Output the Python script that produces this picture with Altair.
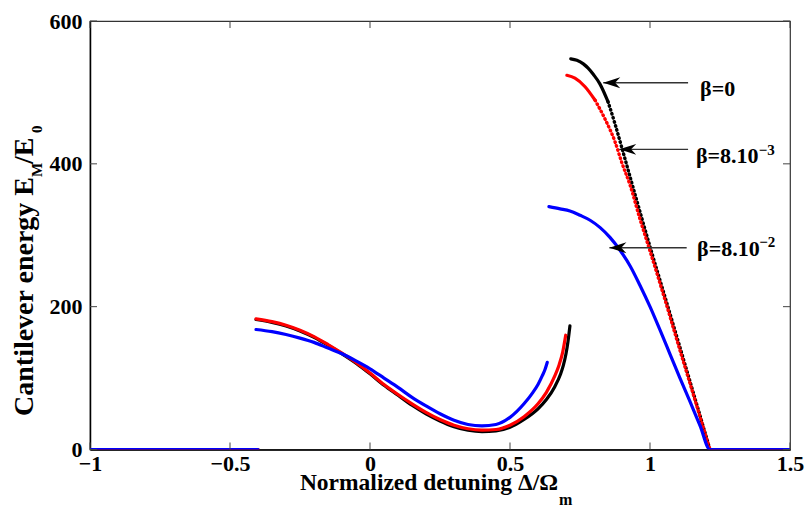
import altair as alt
import pandas as pd

# ---------------- data ----------------
zero_left_x = [-1.0, -0.40]
zero_left_y = [0, 0]

black_low_x = [-0.407, -0.35, -0.30, -0.25, -0.20, -0.15, -0.10, -0.05, 0.00, 0.05,
               0.10, 0.15, 0.20, 0.25, 0.30, 0.35, 0.40, 0.45, 0.50, 0.55,
               0.60, 0.63, 0.66, 0.68, 0.69, 0.70, 0.707, 0.714]
black_low_y = [182, 178, 173, 166, 157, 146, 134, 121, 106, 90,
               76, 62, 50, 40, 32, 27, 25, 26, 31, 42,
               57, 70, 88, 105, 117, 134, 151, 173]
red_low_x = [-0.407, -0.35, -0.30, -0.25, -0.20, -0.15, -0.10, -0.05, 0.00, 0.05,
             0.10, 0.15, 0.20, 0.25, 0.30, 0.35, 0.40, 0.45, 0.50, 0.55,
             0.60, 0.63, 0.66, 0.675, 0.688, 0.699]
red_low_y = [183, 179, 174, 167, 158, 147, 135, 122, 107, 91,
             77, 64, 52, 42, 34, 29, 27, 28, 34, 46,
             64, 80, 103, 118, 136, 160]
blue_low_x = [-0.407, -0.35, -0.30, -0.25, -0.20, -0.15, -0.10, -0.05, 0.00, 0.05,
              0.10, 0.15, 0.20, 0.25, 0.30, 0.35, 0.40, 0.45, 0.50, 0.55,
              0.58, 0.60, 0.615, 0.625, 0.633]
blue_low_y = [168, 165, 161, 156, 150, 142, 134, 124, 113, 100,
              87, 73, 61, 50, 41, 35, 33, 35, 45, 64,
              79, 91, 103, 112, 122]

black_up_x = [0.717, 0.739, 0.762, 0.779, 0.798, 0.821, 0.850, 0.875, 0.902, 0.946,
              1.000, 1.054, 1.107, 1.161, 1.214, 1.5]
black_up_y = [547, 545, 540, 534, 525, 512, 487, 456, 419, 358,
              284, 213, 143, 71, 0, 0]
red_up_x = [0.703, 0.732, 0.768, 0.804, 0.839, 0.875, 0.900, 0.929, 0.964, 1.000,
            1.054, 1.107, 1.161, 1.214, 1.5]
red_up_y = [524, 520, 508, 489, 463, 431, 401, 370, 323, 278,
            209, 139, 69, 0, 0]
blue_up_x = [0.639, 0.679, 0.714, 0.750, 0.786, 0.821, 0.857, 0.893, 0.929, 0.964,
             1.000, 1.036, 1.071, 1.107, 1.143, 1.179, 1.214, 1.5]
blue_up_y = [340, 337, 334, 328, 321, 311, 297, 279, 257, 230,
             200, 167, 134, 100, 67, 33, 0, 0]

# below these energies the sampled points of the steep branch show as separate dots
dotted_below = {"black": 500, "red": 492}

x_ticks = [-1, -0.5, 0, 0.5, 1, 1.5]
y_ticks = [0, 200, 400, 600]

# annotation labels (data coordinates)
label_text = ["β=0", "β=8.10", "β=8.10"]
label_x = [1.179, 1.164, 1.168]
label_y = [495, 401, 271]
sup_text = ["−3", "−2"]
sup_x = [1.388, 1.390]
sup_y = [412, 283]
arrow_tip_x = [0.833, 0.890, 0.855]
arrow_tail_x = [1.136, 1.136, 1.131]
arrow_y = [513.5, 420.3, 282.5]

x_title_main = "Normalized detuning Δ/Ω"
x_title_sub = "m"
y_title_parts = ["Cantilever energy E", "M", "/E", "0"]

# ---------------- layout ----------------
W, H = 700, 428.5
FONT = "Liberation Serif, Times New Roman, Times, serif"

rows = []
def add(series, seg, style, xs, ys):
    for i, (a, b) in enumerate(zip(xs, ys)):
        rows.append({"series": series, "seg": seg, "style": style, "x": a, "y": b, "i": i})

def add_upper(series, xs, ys):
    thr = dotted_below.get(series)
    end = ys.index(0)
    if thr is None:
        add(series, "up", "solid", xs, ys)
        return
    k = next(j for j, v in enumerate(ys) if v <= thr)
    add(series, "up_a", "solid", xs[:k + 1], ys[:k + 1])
    add(series, "up_b", "dot", xs[k:end + 1], ys[k:end + 1])
    add(series, "up_c", "solid", xs[end:], ys[end:])

for s in ["black", "red", "blue"]:
    add(s, "z", "solid", zero_left_x, zero_left_y)
add("black", "low", "solid", black_low_x, black_low_y)
add("red", "low", "solid", red_low_x, red_low_y)
add("blue", "low", "solid", blue_low_x, blue_low_y)
add_upper("black", black_up_x, black_up_y)
add_upper("red", red_up_x, red_up_y)
add_upper("blue", blue_up_x, blue_up_y)
df = pd.DataFrame(rows)

xscale = alt.Scale(domain=[-1, 1.5], nice=False, zero=False)
yscale = alt.Scale(domain=[0, 600], nice=False, zero=False)

common_axis = dict(title=None, tickSize=0, labelFont=FONT, labelFontSize=22,
                   labelFontWeight="bold", labelColor="black", domainColor="black",
                   domainWidth=1.5, grid=False, labelFlush=False, labelOverlap=False,
                   labelBound=False)
xaxis = alt.Axis(values=x_ticks, format="~g", labelPadding=4, **common_axis)
yaxis = alt.Axis(values=y_ticks, format="d", labelPadding=8, **common_axis)

def X(field):
    return alt.X(field, type="quantitative", scale=xscale, axis=xaxis)

def Y(field):
    return alt.Y(field, type="quantitative", scale=yscale, axis=yaxis)

colors = {"black": "#000000", "red": "#ff0000", "blue": "#0000ff"}
layers = []
for s in ["black", "red", "blue"]:
    solid = df[(df.series == s) & (df["style"] == "solid")]
    layers.append(
        alt.Chart(solid).mark_line(color=colors[s], strokeWidth=3.2, clip=True,
                                   strokeJoin="round", strokeCap="round",
                                   interpolate="monotone")
        .encode(x=X("x"), y=Y("y"), detail="seg:N", order="i:Q")
    )
    dot = df[(df.series == s) & (df["style"] == "dot")]
    if len(dot):
        layers.append(
            alt.Chart(dot).mark_line(color=colors[s], strokeWidth=3.4, clip=True,
                                     strokeCap="round", strokeDash=[0.6, 3.6],
                                     interpolate="monotone")
            .encode(x=X("x"), y=Y("y"), detail="seg:N", order="i:Q")
        )

# inward ticks on all four sides
xt_df = pd.DataFrame({"v": x_ticks})
yt_df = pd.DataFrame({"v": y_ticks})
tick_style = dict(color="#444444", strokeWidth=1)
layers.append(alt.Chart(xt_df).mark_rule(**tick_style).encode(x=X("v"), y=alt.value(H), y2=alt.value(H - 7)))
layers.append(alt.Chart(xt_df).mark_rule(**tick_style).encode(x=X("v"), y=alt.value(0), y2=alt.value(7)))
layers.append(alt.Chart(yt_df).mark_rule(**tick_style).encode(y=Y("v"), x=alt.value(0), x2=alt.value(7)))
layers.append(alt.Chart(yt_df).mark_rule(**tick_style).encode(y=Y("v"), x=alt.value(W - 7), x2=alt.value(W)))

# arrows
arr_df = pd.DataFrame({"tx": arrow_tip_x, "ex": arrow_tail_x, "ay": arrow_y})
layers.append(alt.Chart(arr_df).mark_rule(color="#333333", strokeWidth=1.4)
              .encode(x=X("tx"), x2="ex", y=Y("ay")))
head = "M0,0 L1,-0.32 L0.7,0 L1,0.32 Z"
layers.append(alt.Chart(arr_df).mark_point(shape=head, size=1156, filled=True, color="black",
                                           opacity=1, strokeWidth=0)
              .encode(x=X("tx"), y=Y("ay")))

# beta labels
lab_df = pd.DataFrame({"t": label_text, "x": label_x, "y": label_y})
layers.append(alt.Chart(lab_df).mark_text(align="left", baseline="alphabetic", font=FONT,
                                          fontSize=22, fontWeight="bold", color="black")
              .encode(x=X("x"), y=Y("y"), text="t:N"))
sup_df = pd.DataFrame({"t": sup_text, "x": sup_x, "y": sup_y})
layers.append(alt.Chart(sup_df).mark_text(align="left", baseline="alphabetic", font=FONT,
                                          fontSize=15, fontWeight="bold", color="black")
              .encode(x=X("x"), y=Y("y"), text="t:N"))

# axis titles with sub-scripts
def txt(t, px, py, size, align, angle=0):
    kw = dict(align=align, baseline="alphabetic", font=FONT, fontSize=size,
              fontWeight="bold", color="black")
    if angle:
        kw["angle"] = angle
    return alt.Chart(pd.DataFrame({"t": [t]})).mark_text(**kw).encode(
        text="t:N", x=alt.value(px), y=alt.value(py))

layers.append(txt(x_title_main, 468, 469, 23.5, "right"))
layers.append(txt(x_title_sub, 469, 484, 16, "left"))
layers.append(txt(y_title_parts[0], -57.5, 156, 28, "right", 270))
layers.append(txt(y_title_parts[1], -48, 156, 15, "left", 270))
layers.append(txt(y_title_parts[2], -57.5, 143, 28, "left", 270))
layers.append(txt(y_title_parts[3], -48, 112, 15, "left", 270))

chart = alt.layer(*layers).properties(
    width=W, height=H,
    padding={"left": 90, "top": 21, "right": 16, "bottom": 59.5},
    autosize=alt.AutoSizeParams(type="none"),
    background="white",
).configure_view(stroke="#333333", strokeWidth=1.2)

chart.save("out.html", embed_options={"renderer": "svg", "actions": False})
